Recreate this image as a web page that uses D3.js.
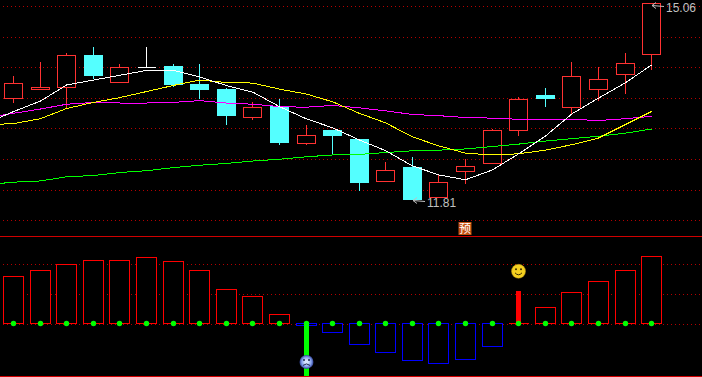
<!doctype html>
<html lang="zh">
<head>
<meta charset="utf-8">
<title>K-line</title>
<script src="https://cdnjs.cloudflare.com/ajax/libs/d3/7.8.5/d3.min.js"></script>
<style>
  html, body { margin: 0; padding: 0; background: #000; overflow: hidden; }
  svg { display: block; }
  .grid line { stroke: #b40000; stroke-dasharray: 1 3; shape-rendering: crispEdges; }
  .grid path { display: none; }
  .price-label { font-family: "Liberation Sans", sans-serif; font-size: 12px; fill: #c0c0c0; }
</style>
</head>
<body>
<div id="viz"></div>
<script>
// Daily candles, oldest first
var open  = [13.48,13.63,13.67,14.20,13.75,14.00,14.02,13.72,13.63,13.17,13.35,12.74,12.95,12.80,12.11,12.35,11.84,12.27,12.41,12.96,13.53,13.34,13.63,13.88,14.22];
var close = [13.74,13.67,14.20,13.87,13.99,14.00,13.72,13.64,13.21,13.34,12.75,12.88,12.88,12.10,12.30,11.81,12.10,12.36,12.96,13.47,13.48,13.85,13.80,14.07,15.06];
var high  = [13.87,14.09,14.24,14.35,14.07,14.34,14.07,14.06,13.67,13.43,13.48,13.05,12.95,12.83,12.45,12.52,12.22,12.50,12.98,13.52,13.67,14.09,14.02,14.24,15.06];
var low   = [13.42,13.63,13.33,13.81,13.75,14.00,13.69,13.49,13.06,13.13,12.72,12.72,12.57,11.97,12.11,11.81,11.84,12.07,12.41,12.87,13.35,13.24,13.45,13.56,13.96];

// Moving averages. First value belongs to the session just before the window.
var maWhite   = [13.08,13.27,13.44,13.71,13.79,13.87,13.95,13.95,13.84,13.70,13.59,13.35,13.15,13.00,12.80,12.62,12.37,12.22,12.14,12.30,12.57,12.86,13.23,13.49,13.74,14.04];
var maYellow  = [13.05,13.07,13.15,13.32,13.42,13.50,13.60,13.70,13.79,13.75,13.74,13.64,13.56,13.43,13.24,13.08,12.85,12.70,12.58,12.55,12.57,12.63,12.72,12.83,13.05,13.27];
var maMagenta = [13.17,13.24,13.31,13.39,13.42,13.41,13.41,13.42,13.45,13.41,13.39,13.35,13.34,13.37,13.33,13.28,13.22,13.20,13.17,13.16,13.14,13.14,13.14,13.12,13.15,13.19];
var maGreen   = [12.06,12.10,12.12,12.19,12.21,12.26,12.29,12.34,12.38,12.41,12.45,12.48,12.52,12.55,12.56,12.59,12.62,12.63,12.65,12.69,12.73,12.78,12.82,12.86,12.91,12.98];

var priceTicks = [15.01,14.51,14.00,13.49,12.99,12.48,11.97,11.47];

// Lower panel indicator
var indicator = [78.3,88.3,98.3,105,105,110,103.3,88.3,56.7,45,15,-3.3,-15,-35,-48.3,-61.7,-66.7,-60,-38.3,0,26.7,51.7,70,88.3,111.7];
var signal    = [0,0,0,0,0,0,0,0,0,0,0,-88,0,0,0,0,0,0,0,53.8,0,0,0,0,0];
var faceIndex = [11,19];
var faceValue = [-64,87];
var indicatorTicks = [0,50,100];

var maxLabel = "15.06", minLabel = "11.81", maxIndex = 24, minIndex = 15;
var noticeIndex = 17;

// Dimensions
var w = 702, h = 377;
var halfBody = 9, halfBar = 10;

var mySVG = d3.select("#viz")
  .append("svg")
  .attr("width", w)
  .attr("height", h)
  .attr("viewBox", "0 0 702 377");

var defs = mySVG.append("defs");
var sadFill = defs.append("radialGradient").attr("id", "sadFill");
sadFill.append("stop").attr("offset", "25%").attr("stop-color", "#d8e6ff");
sadFill.append("stop").attr("offset", "70%").attr("stop-color", "#7f9ae8");
sadFill.append("stop").attr("offset", "100%").attr("stop-color", "#2f3f90");

// SCALES
var x = d3.scaleLinear().domain([0, 24]).range([13.67, 651.59]);
var y = d3.scaleLinear().domain([15.06, 11.81]).range([3.3, 199.7]);
var y2 = d3.scaleLinear().domain([0, 100]).range([323.5, 263.5]);

function px(i) { return Math.floor(x(i)) + 0.5; }
function py(v) { return Math.floor(y(v)) + 0.5; }
function py2(v) { return Math.floor(y2(v)) + 0.5; }

// GRID
mySVG.append("g")
  .attr("class", "grid")
  .attr("transform", "translate(3,0)")
  .call(d3.axisRight(y).tickValues(priceTicks).tickSize(w).tickFormat(""));

mySVG.append("g")
  .attr("class", "grid")
  .attr("transform", "translate(3,0)")
  .call(d3.axisRight(y2).tickValues(indicatorTicks).tickSize(w).tickFormat(""));

// Panel borders
mySVG.selectAll("line.border")
  .data([236.5, 376.5])
  .enter()
  .append("line")
  .attr("class", "border")
  .attr("x1", 0)
  .attr("x2", w)
  .attr("y1", function(d) { return d; })
  .attr("y2", function(d) { return d; })
  .attr("stroke", "#d00000")
  .attr("shape-rendering", "crispEdges");

// CANDLES
function candleColor(i) {
  if (close[i] > open[i]) return "#ff3232";
  if (close[i] < open[i]) return "#54ffff";
  return "#ffffff";
}

var candles = mySVG.append("g")
  .attr("shape-rendering", "crispEdges")
  .selectAll("g")
  .data(d3.range(open.length))
  .enter()
  .append("g");

candles.append("line")
  .attr("x1", px)
  .attr("x2", px)
  .attr("y1", function(i) { return py(high[i]); })
  .attr("y2", function(i) { return py(low[i]); })
  .attr("stroke", candleColor);

// a path, because a flat open == close body still has to show
candles.append("path")
  .attr("d", function(i) {
    var top = py(Math.max(open[i], close[i])),
        bottom = py(Math.min(open[i], close[i]));
    return "M" + (px(i) - halfBody) + "," + top +
      "H" + (px(i) + halfBody) +
      "V" + bottom +
      "H" + (px(i) - halfBody) + "Z";
  })
  .attr("stroke", candleColor)
  .attr("fill", function(i) { return close[i] < open[i] ? "#54ffff" : "#000"; });

// MOVING AVERAGES
var maLine = d3.line()
  .x(function(d, i) { return x(i - 1); })
  .y(function(d) { return y(d); });

mySVG.selectAll("path.ma")
  .data([
    { values: maGreen, color: "#00ff00" },
    { values: maMagenta, color: "#ff00ff" },
    { values: maYellow, color: "#ffff00" },
    { values: maWhite, color: "#ffffff" }
  ])
  .enter()
  .append("path")
  .attr("class", "ma")
  .attr("d", function(d) { return maLine(d.values); })
  .attr("fill", "none")
  .attr("stroke", function(d) { return d.color; })
  .attr("shape-rendering", "crispEdges");

// High and low labels with their arrows
var markers = [
  { label: maxLabel, index: maxIndex, price: 15.06, base: 12 },
  { label: minLabel, index: minIndex, price: 11.81, base: 207 }
];

markers.forEach(function(m) {
  var ax = px(m.index) + 0.5, ay = py(m.price) + (m.index === maxIndex ? 2 : 1);
  mySVG.append("path")
    .attr("d", "M" + ax + "," + ay + "l12,1M" + ax + "," + ay + "l4,-3M" + ax + "," + ay + "l4,3")
    .attr("fill", "none")
    .attr("stroke", "#c0c0c0");
  mySVG.append("text")
    .attr("class", "price-label")
    .attr("x", ax + 14)
    .attr("y", m.base)
    .text(m.label);
});

// Notice badge
var notice = mySVG.append("g")
  .attr("transform", "translate(" + Math.floor(x(noticeIndex)) + ",228.5)");
notice.append("rect")
  .attr("x", -6.5)
  .attr("y", -6.5)
  .attr("width", 13)
  .attr("height", 13)
  .attr("fill", "#c4500f");
notice.append("text")
  .attr("text-anchor", "middle")
  .attr("y", 4.5)
  .attr("font-family", "Noto Sans CJK SC")
  .attr("font-size", 12)
  .attr("fill", "#fff")
  .text("预");

// INDICATOR BARS
mySVG.append("g")
  .attr("shape-rendering", "crispEdges")
  .selectAll("rect")
  .data(indicator)
  .enter()
  .append("path")
  .attr("d", function(d, i) {
    var top = py2(Math.max(d, 0)),
        bottom = py2(Math.min(d, 0));
    return "M" + (px(i) - halfBar) + "," + top +
      "H" + (px(i) + halfBar) +
      "V" + bottom +
      "H" + (px(i) - halfBar) + "Z";
  })
  .attr("fill", "#000")
  .attr("stroke", function(d) { return d < 0 ? "#0000ff" : "#ff0000"; });

// Signal bars
mySVG.append("g")
  .attr("shape-rendering", "crispEdges")
  .selectAll("rect")
  .data(signal)
  .enter()
  .filter(function(d) { return d !== 0; })
  .append("rect")
  .attr("x", function(d) { return px(signal.indexOf(d)) - 2.5; })
  .attr("width", 5)
  .attr("y", function(d) { return d > 0 ? y2(d) : y2(0) - 2; })
  .attr("height", function(d) { return d > 0 ? y2(0) - y2(d) : y2(d) - y2(0) + 2; })
  .attr("fill", function(d) { return d > 0 ? "#ff0000" : "#00ff00"; });

// Baseline dots
mySVG.append("g")
  .selectAll("circle")
  .data(indicator)
  .enter()
  .append("circle")
  .attr("cx", function(d, i) { return px(i); })
  .attr("cy", py2(0))
  .attr("r", 2.7)
  .attr("fill", "#00ff00");

// Faces for the two signals
faceIndex.forEach(function(idx, k) {
  var sad = signal[idx] < 0;
  var face = mySVG.append("g")
    .attr("transform", "translate(" + px(idx) + "," + y2(faceValue[k]) + ")");
  face.append("circle")
    .attr("r", 7)
    .attr("fill", sad ? "url(#sadFill)" : "#f4d020")
    .attr("stroke", sad ? "none" : "#b08a10")
    .attr("stroke-width", 0.5);
  face.selectAll("circle.eye")
    .data([-2.5, 2.5])
    .enter()
    .append("circle")
    .attr("class", "eye")
    .attr("cx", function(d) { return d; })
    .attr("cy", -2)
    .attr("r", 1)
    .attr("fill", sad ? "#20264f" : "#3a2c00");
  face.append("path")
    .attr("d", sad ? "M-3.5,3.5Q0,0.5 3.5,3.5" : "M-3.5,1.5Q0,5.5 3.5,1.5")
    .attr("fill", "none")
    .attr("stroke", sad ? "#20264f" : "#3a2c00")
    .attr("stroke-width", 1);
});
</script>
</body>
</html>
